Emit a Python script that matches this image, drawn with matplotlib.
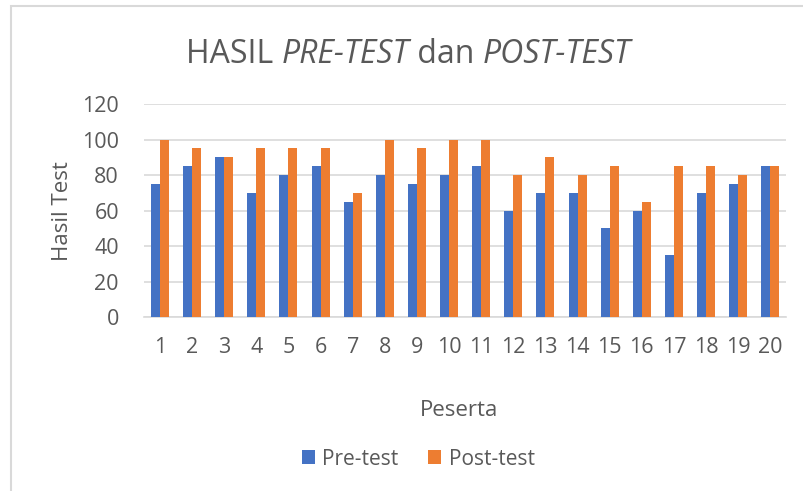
import numpy as np
import matplotlib.pyplot as plt
from matplotlib.patches import Rectangle

peserta = [str(i) for i in range(1, 21)]
pre_test = [75, 85, 90, 70, 80, 85, 65, 80, 75, 80, 85, 60, 70, 70, 50, 60, 35, 70, 75, 85]
post_test = [100, 95, 90, 95, 95, 95, 70, 100, 95, 100, 100, 80, 90, 80, 85, 65, 85, 85, 80, 85]
y_ticks = [0, 20, 40, 60, 80, 100, 120]

plt.rcParams['font.family'] = ['Open Sans', 'DejaVu Sans']
grey = '#595959'

fig = plt.figure(figsize=(8.04, 4.91), dpi=100)
ax = fig.add_axes([0.179, 0.354, 0.799, 0.434])

x = np.arange(len(peserta))
w = 0.28
ax.bar(x - w / 2, pre_test, w, color='#4472C4', label='Pre-test', zorder=3)
ax.bar(x + w / 2, post_test, w, color='#ED7D31', label='Post-test', zorder=3)

ax.set_xlim(-0.5, len(peserta) - 0.5)
ax.set_ylim(0, 120)
ax.set_yticks(y_ticks)
ax.set_xticks(x)
ax.set_xticklabels(peserta)
ax.yaxis.grid(True, color='#d9d9d9', linewidth=1.2, zorder=0)
for s in ['top', 'right', 'left']:
    ax.spines[s].set_visible(False)
ax.spines['bottom'].set_color('#d9d9d9')
ax.spines['bottom'].set_linewidth(1.2)
ax.tick_params(length=0, labelsize=15.5, labelcolor=grey)
ax.tick_params(axis='x', pad=14)
ax.tick_params(axis='y', pad=18)

fig.text(0.078, 0.57, 'Hasil Test', rotation=90, ha='center', va='center',
         fontsize=16, color=grey)
fig.text(0.571, 0.163, 'Peserta', ha='center', va='center', fontsize=16, color=grey)

# title with italic parts
parts = [('HASIL ', 'normal'), ('PRE-TEST', 'italic'), (' dan ', 'normal'),
         ('POST-TEST', 'italic')]
renderer = fig.canvas.get_renderer()
texts = []
total = 0
for s, style in parts:
    t = fig.text(0, 0.89, s, fontsize=23, style=style, color=grey, va='center')
    bb = t.get_window_extent(renderer)
    texts.append((t, bb.width))
    total += bb.width
xpos = (fig.bbox.width * 0.508 - total / 2)
for t, wd in texts:
    t.set_x(xpos / fig.bbox.width)
    xpos += wd

fig.legend(loc='center', bbox_to_anchor=(0.52, 0.065), ncol=2, frameon=False,
           fontsize=15, labelcolor=grey, handlelength=0.65, handleheight=0.65,
           columnspacing=1.4, handletextpad=0.35)

fig.patches.append(Rectangle((11 / 804, -0.1), 1.2, 1.1 - 6 / 491, transform=fig.transFigure,
                             fill=False, edgecolor='#d9d9d9', linewidth=1.5))

fig.savefig('out.png', dpi=100)
